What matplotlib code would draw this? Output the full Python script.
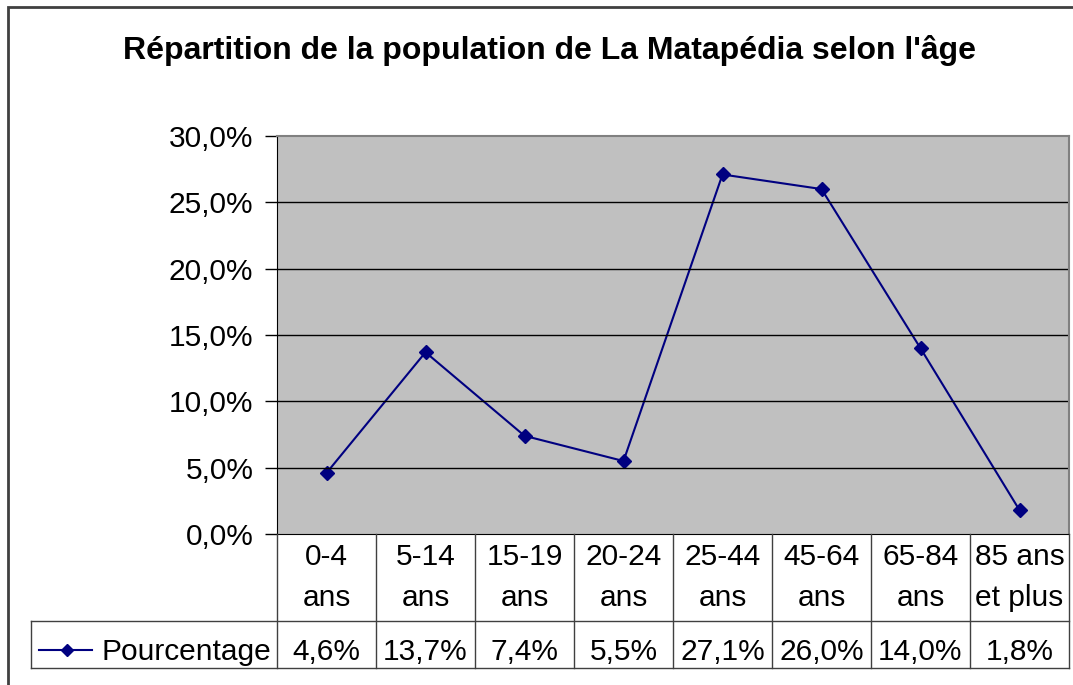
import matplotlib.pyplot as plt
from matplotlib.transforms import blended_transform_factory
from matplotlib.lines import Line2D
from matplotlib.patches import Rectangle

plt.rcParams['font.family'] = ['Liberation Sans', 'DejaVu Sans']

categories = ["0-4\nans", "5-14\nans", "15-19\nans", "20-24\nans",
              "25-44\nans", "45-64\nans", "65-84\nans", "85 ans\net plus"]
values = [4.6, 13.7, 7.4, 5.5, 27.1, 26.0, 14.0, 1.8]
value_labels = ["4,6%", "13,7%", "7,4%", "5,5%", "27,1%", "26,0%", "14,0%", "1,8%"]
yticks = [0, 5, 10, 15, 20, 25, 30]
series_name = "Pourcentage"
title = "Répartition de la population de La Matapédia selon l'âge"

W, H = 1073, 685
navy = "#000080"
fs = 21.5


def fy(py):
    return 1 - py / H


fig = plt.figure(figsize=(W / 100, H / 100), dpi=100)
ax = fig.add_axes([277 / W, fy(534), (1069 - 277) / W, (534 - 136) / H])
ax.set_facecolor("#C0C0C0")

x = list(range(len(values)))
ax.plot(x, values, color=navy, lw=1.5, marker="D", ms=7.5, mfc=navy, mec=navy)

ax.set_xlim(-0.5, len(values) - 0.5)
ax.set_ylim(0, 30)
ax.set_yticks(yticks)
ax.set_yticklabels([f"{v:.1f}%".replace(".", ",") for v in yticks], fontsize=fs)
ax.set_xticks([])
ax.tick_params(axis="y", length=9, width=1, pad=8, direction="out")
for v in yticks[1:-1]:
    ax.axhline(v, color="black", lw=1)
for side in ["top", "right"]:
    ax.spines[side].set_color("#808080")
    ax.spines[side].set_linewidth(1.5)
ax.spines["left"].set_color("black")
ax.spines["bottom"].set_color("black")

# outer chart frame
fig.patches.append(Rectangle((8 / W, fy(H + 10)), 1.2, (H + 10 - 7) / H,
                             transform=fig.transFigure, fill=False,
                             ec="#404040", lw=2))

fig.text(549 / W, fy(51), title, ha="center", va="center",
         fontsize=23, fontweight="bold")

# data table below the plot
tr = blended_transform_factory(ax.transData, fig.transFigure)
row1_top, row2_top, row2_bot = fy(534), fy(621), fy(668)
edge = "#404040"
for i in range(len(values) + 1):
    xe = i - 0.5
    fig.add_artist(Line2D([xe, xe], [row2_bot, row1_top], transform=tr,
                          color=edge, lw=1))
fig.add_artist(Line2D([31 / W, 1069 / W], [row2_top, row2_top],
                      transform=fig.transFigure, color=edge, lw=1))
fig.add_artist(Line2D([31 / W, 1069 / W], [row2_bot, row2_bot],
                      transform=fig.transFigure, color=edge, lw=1))
fig.add_artist(Line2D([31 / W, 31 / W], [row2_bot, row2_top],
                      transform=fig.transFigure, color=edge, lw=1))

base = fy(660)
for i, (c, vl) in enumerate(zip(categories, value_labels)):
    fig.text(i, (row1_top + row2_top) / 2, c, transform=tr, ha="center",
             va="center", fontsize=fs, linespacing=1.6)
    fig.text(i, base, vl, transform=tr, ha="center",
             va="baseline", fontsize=fs)

ly = fy(650)
fig.add_artist(Line2D([39 / W, 92 / W], [ly, ly], transform=fig.transFigure,
                      color=navy, lw=1.5))
fig.add_artist(Line2D([67 / W], [ly], transform=fig.transFigure, color=navy,
                      marker="D", ms=6.5))
fig.text(102 / W, base, series_name, ha="left", va="baseline", fontsize=fs)

fig.savefig("out.png", dpi=100)
